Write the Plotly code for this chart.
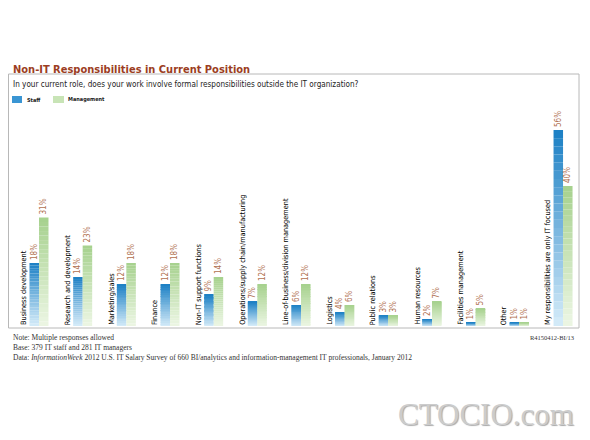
import plotly.graph_objects as go

categories = ["Business development", "Research and development", "Marketing/sales", "Finance",
              "Non-IT support functions", "Operations/supply chain/manufacturing",
              "Line-of-business/division management", "Logistics", "Public relations",
              "Human resources", "Facilities management", "Other",
              "My responsibilities are only IT focused"]
staff = [18, 14, 12, 12, 9, 7, 6, 4, 3, 2, 1, 1, 56]
management = [31, 23, 18, 18, 14, 12, 12, 6, 3, 7, 5, 1, 40]
series_names = ["Staff", "Management"]

# page body has an 8px margin: figure sized to fit the 590x440 window
OFF = 8
W, H = 574, 424
NARROW = "DejaVu Sans Condensed, Liberation Sans Narrow, Roboto, sans-serif"
SERIF = "Liberation Serif, Times New Roman, serif"

def lerp(c1, c2, t):
    return "rgb(%d,%d,%d)" % tuple(round(a + (b - a) * t) for a, b in zip(c1, c2))

grad = {
    "Staff": ((214, 236, 249), (26, 127, 196)),
    "Management": ((236, 246, 228), (166, 209, 141)),
}

x = list(range(len(categories)))
fig = go.Figure()
N = 24
for name, vals in zip(series_names, [staff, management]):
    lo, hi = grad[name]
    for k in range(N):
        fig.add_trace(go.Bar(
            x=x, y=[v / N for v in vals], base=[v * k / N for v in vals],
            offsetgroup=name, marker=dict(color=lerp(lo, hi, (k + 0.5) / N), line=dict(width=0)),
            hoverinfo="skip", showlegend=False))
    fig.add_trace(go.Bar(
        x=x, y=vals, offsetgroup=name, name=name,
        marker=dict(color="rgba(0,0,0,0)", line=dict(width=0)),
        text=[f"{v}%" for v in vals], textposition="outside", textangle=-90,
        constraintext="none", cliponaxis=False,
        textfont=dict(family=NARROW, size=8, color="#b0704f"), showlegend=False))

def px(xp):
    return (xp - OFF) / W

def py(yp):
    return 1 - (yp - OFF) / H

ann = []
for i, c in enumerate(categories):
    ann.append(dict(x=i, y=0, xref="x", yref="y", text=c, showarrow=False, textangle=-90,
                    xanchor="center", yanchor="bottom", xshift=-15.5, yshift=-1,
                    font=dict(family=NARROW, size=7.3, color="#000000")))

ann += [
    dict(x=px(11), y=py(69), xref="paper", yref="paper", xanchor="left", yanchor="middle",
         text="<b>Non-IT Responsibilities in Current Position</b>", showarrow=False,
         font=dict(family=NARROW, size=11, color="#9c3d22")),
    dict(x=px(11), y=py(83.5), xref="paper", yref="paper", xanchor="left", yanchor="middle",
         text="In your current role, does your work involve formal responsibilities outside the IT organization?",
         showarrow=False, font=dict(family=NARROW, size=8.1, color="#222222")),
    dict(x=px(25), y=py(99.5), xref="paper", yref="paper", xanchor="left", yanchor="middle",
         text="<b>Staff</b>", showarrow=False, font=dict(family=NARROW, size=5.5, color="#222222")),
    dict(x=px(66), y=py(99.5), xref="paper", yref="paper", xanchor="left", yanchor="middle",
         text="<b>Management</b>", showarrow=False, font=dict(family=NARROW, size=5.5, color="#222222")),
    dict(x=px(11), y=py(337.5), xref="paper", yref="paper", xanchor="left", yanchor="middle",
         text="Note: Multiple responses allowed", showarrow=False,
         font=dict(family=SERIF, size=7.5, color="#333333")),
    dict(x=px(11), y=py(347.5), xref="paper", yref="paper", xanchor="left", yanchor="middle",
         text="Base: 379 IT staff and 281 IT managers", showarrow=False,
         font=dict(family=SERIF, size=7.5, color="#333333")),
    dict(x=px(11), y=py(357), xref="paper", yref="paper", xanchor="left", yanchor="middle",
         text="Data: <i>InformationWeek</i> 2012 U.S. IT Salary Survey of 660 BI/analytics and information-management IT professionals, January 2012",
         showarrow=False, font=dict(family=SERIF, size=7.5, color="#333333")),
    dict(x=px(576), y=py(337.5), xref="paper", yref="paper", xanchor="right", yanchor="middle",
         text="R4150412-BI/13", showarrow=False, font=dict(family=SERIF, size=6.5, color="#333333")),
    dict(x=px(576), y=py(414), xref="paper", yref="paper", xanchor="right", yanchor="middle",
         text="CTOCIO.com", showarrow=False,
         font=dict(family=SERIF, size=31, color="#cccccc", shadow="1px 1px 1px #a8a8a8")),
]

shapes = [
    dict(type="rect", xref="paper", yref="paper", x0=px(8.5), x1=px(579), y0=py(74), y1=py(328),
         line=dict(color="#b8b8b8", width=1), fillcolor="rgba(0,0,0,0)", layer="above"),
    dict(type="rect", xref="paper", yref="paper", x0=px(12), x1=px(22), y0=py(96), y1=py(103),
         line=dict(width=0), fillcolor="#3a95d3"),
    dict(type="rect", xref="paper", yref="paper", x0=px(53), x1=px(64), y0=py(96), y1=py(103),
         line=dict(width=0), fillcolor="#c8e4b6"),
]

step = 43.67
x0p = 39 - OFF
base_y = 326 - OFF
fig.update_layout(
    width=W, height=H, margin=dict(l=0, r=0, t=0, b=0),
    paper_bgcolor="white", plot_bgcolor="rgba(0,0,0,0)",
    barmode="group", bargap=0.565, bargroupgap=0,
    showlegend=False,
    xaxis=dict(visible=False, range=[-x0p / step, (W - x0p) / step], fixedrange=True),
    yaxis=dict(visible=False, range=[(base_y - H) / 3.5, base_y / 3.5], fixedrange=True),
    annotations=ann, shapes=shapes,
)

fig.write_html("out.html")
